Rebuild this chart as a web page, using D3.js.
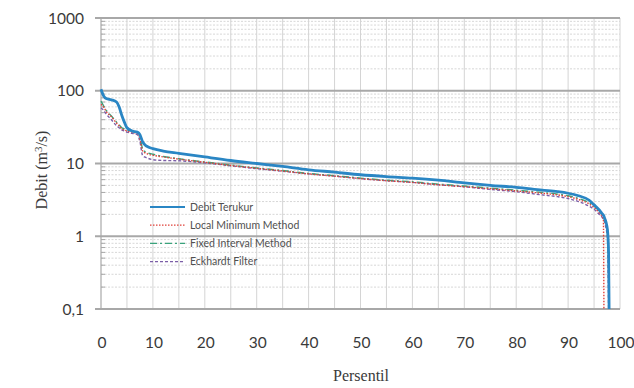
<!DOCTYPE html>
<html>
<head>
<meta charset="utf-8">
<script src="https://cdn.jsdelivr.net/npm/d3@7"></script>
<style>
  body { margin: 0; background: #fff; }
  svg { display: block; }
  .tick-label { font-family: Lato, "Open Sans", sans-serif; font-size: 15.5px; fill: #3a3a3a; }
  .axis-title { font-family: "Liberation Serif", "DejaVu Serif", serif; font-size: 16px; fill: #3a3a3a; }
  .legend text { font-family: Lato, sans-serif; font-size: 10.5px; fill: #505050; }
</style>
</head>
<body>
<div id="chart"></div>
<script>
// percentile positions (x) shared by all series
const persentil = [0, 0.5, 1, 2, 3, 3.5, 4, 4.5, 5, 6, 7, 7.5, 8, 8.5, 9, 10, 12, 15, 20, 25, 30, 35, 40, 45, 50, 55, 60, 65, 70, 75, 80, 85, 88, 90, 92, 94, 95, 96, 96.5, 96.8, 96.9, 97, 97.3, 97.6, 97.8, 97.9];

// debit values (m3/s), null = not drawn
const debitTerukur = [105, 85, 78, 75, 70, 60, 46, 37, 31, 28, 27, 25, 20, 18, 17, 16, 14.8, 13.8, 12.3, 11, 10, 9.1, 8.2, 7.6, 7.0, 6.6, 6.3, 5.9, 5.4, 5.0, 4.7, 4.3, 4.1, 3.9, 3.6, 3.15, 2.7, 2.3, 2.07, 1.95, 1.9, 1.8, 1.56, 1.2, 0.6, 0.1];
const localMinimum = [65, 60, 52, 44, 36, 33, 30, 29, 28, 27, 26, 22, 15, 14, 13.5, 13, 12.3, 11.5, 10.4, 9.4, 8.6, 7.9, 7.2, 6.7, 6.2, 5.8, 5.5, 5.1, 4.8, 4.5, 4.2, 3.9, 3.7, 3.5, 3.2, 2.8, 2.5, 2.1, 1.9, 1.7, 0.1, null, null, null, null, null];
const fixedInterval = [72, 62, 54, 45, 37, 34, 31, 30, 29, 27.5, 26.5, 23, 16, 14.5, 14, 13.4, 12.5, 11.6, 10.5, 9.5, 8.7, 8.0, 7.3, 6.8, 6.3, 5.9, 5.6, 5.2, 4.9, 4.6, 4.3, 4.0, 3.8, 3.6, 3.3, 2.9, 2.6, 2.2, 2.0, 1.85, 1.8, 1.7, 1.45, 1.05, 0.4, 0.1];
const eckhardt = [58, 54, 48, 40, 33, 31, 29, 28, 27, 26, 25, 20, 13, 12.2, 11.8, 11.3, 11, 10.9, 10.2, 9.3, 8.5, 7.8, 7.2, 6.7, 6.2, 5.8, 5.5, 5.1, 4.8, 4.4, 4.1, 3.7, 3.5, 3.3, 3.0, 2.6, 2.35, 2.0, 1.85, 1.7, 1.65, 1.6, 1.3, 0.9, 0.1, null];

const xTicks = [0, 10, 20, 30, 40, 50, 60, 70, 80, 90, 100];
const yTicks = [0.1, 1, 10, 100, 1000];
const yTickLabels = ["0,1", "1", "10", "100", "1000"];

const seriesNames = ["Debit Terukur", "Local Minimum Method", "Fixed Interval Method", "Eckhardt Filter"];
const seriesValues = [debitTerukur, localMinimum, fixedInterval, eckhardt];
const seriesColors = ["#2a86c4", "#e0413a", "#3aa37c", "#7b5ea7"];
const seriesWidths = [2.8, 1.4, 1.4, 1.4];
const seriesDash = [null, "1.5,1.5", "7,3,2,3", "3,2"];

const W = 634, H = 388;
const margin = { top: 18, right: 14, bottom: 79, left: 101 };

const svg = d3.select("#chart").append("svg")
  .attr("width", W)
  .attr("height", H);

const x = d3.scaleLinear().domain([0, 100]).range([margin.left, W - margin.right]);
const y = d3.scaleLog().domain([0.1, 1000]).range([H - margin.bottom, margin.top]);

// minor horizontal gridlines (2..9 per decade)
const minorY = [];
for (let d = 0.1; d < 1000; d *= 10) {
  for (let k = 2; k <= 9; k++) minorY.push(+(d * k).toPrecision(3));
}
svg.append("g").selectAll("line")
  .data(minorY)
  .enter().append("line")
  .attr("x1", x(0)).attr("x2", x(100))
  .attr("y1", d => y(d)).attr("y2", d => y(d))
  .attr("stroke", "#cdcdcd")
  .attr("stroke-width", 0.8)
  .attr("stroke-dasharray", "2,1.5");

// vertical gridlines every 5
svg.append("g").selectAll("line")
  .data(d3.range(5, 101, 5))
  .enter().append("line")
  .attr("x1", d => x(d)).attr("x2", d => x(d))
  .attr("y1", y(1000)).attr("y2", y(0.1))
  .attr("stroke", "#d4d4d4")
  .attr("stroke-width", 1);

// major horizontal gridlines (decades)
svg.append("g").selectAll("line")
  .data(yTicks)
  .enter().append("line")
  .attr("x1", x(0) - 6).attr("x2", x(100))
  .attr("y1", d => y(d)).attr("y2", d => y(d))
  .attr("stroke", "#a8a8a8")
  .attr("stroke-width", 1.8);

// left axis line with minor ticks
svg.append("line")
  .attr("x1", x(0)).attr("x2", x(0))
  .attr("y1", y(1000)).attr("y2", y(0.1))
  .attr("stroke", "#a8a8a8")
  .attr("stroke-width", 1.2);
svg.append("g").selectAll("line")
  .data(minorY)
  .enter().append("line")
  .attr("x1", x(0)).attr("x2", x(0) + 4)
  .attr("y1", d => y(d)).attr("y2", d => y(d))
  .attr("stroke", "#a8a8a8");

// y tick labels
svg.append("g").selectAll("text")
  .data(yTicks)
  .enter().append("text")
  .attr("class", "tick-label")
  .attr("x", x(0) - 17)
  .attr("y", d => y(d))
  .attr("dy", "0.36em")
  .attr("text-anchor", "end")
  .text((d, i) => yTickLabels[i]);

// x tick labels
svg.append("g").selectAll("text")
  .data(xTicks)
  .enter().append("text")
  .attr("class", "tick-label")
  .attr("x", d => x(d) + 1)
  .attr("y", y(0.1) + 39)
  .attr("text-anchor", "middle")
  .text(d => d);

// axis titles
svg.append("text")
  .attr("class", "axis-title")
  .attr("x", 361)
  .attr("y", 381)
  .attr("text-anchor", "middle")
  .text("Persentil");

svg.append("text")
  .attr("class", "axis-title")
  .attr("transform", "translate(47,170) rotate(-90)")
  .attr("text-anchor", "middle")
  .html("Debit (m<tspan dy='-5' font-size='11'>3</tspan><tspan dy='5'>/s)</tspan>");

// lines
const line = d3.line()
  .defined(d => d[1] != null)
  .curve(d3.curveMonotoneX)
  .x(d => x(d[0]))
  .y(d => y(d[1]));

// draw thin series first, measured flow on top
[3, 2, 1, 0].forEach(i => {
  svg.append("path")
    .datum(persentil.map((p, j) => [p, seriesValues[i][j]]))
    .attr("fill", "none")
    .attr("stroke", seriesColors[i])
    .attr("stroke-width", seriesWidths[i])
    .attr("stroke-dasharray", seriesDash[i])
    .attr("stroke-linejoin", "round")
    .attr("d", line);
});

// legend
const legend = svg.append("g").attr("class", "legend");
const leg = legend.selectAll("g")
  .data(seriesNames)
  .enter().append("g")
  .attr("transform", (d, i) => `translate(150, ${207 + i * 18.2})`);
leg.append("line")
  .attr("x1", 0).attr("x2", 35)
  .attr("stroke", (d, i) => seriesColors[i])
  .attr("stroke-width", (d, i) => i === 0 ? 1.8 : 1.2)
  .attr("stroke-dasharray", (d, i) => seriesDash[i]);
leg.append("text")
  .attr("x", 40)
  .attr("dy", "0.35em")
  .text(d => d);
</script>
</body>
</html>
